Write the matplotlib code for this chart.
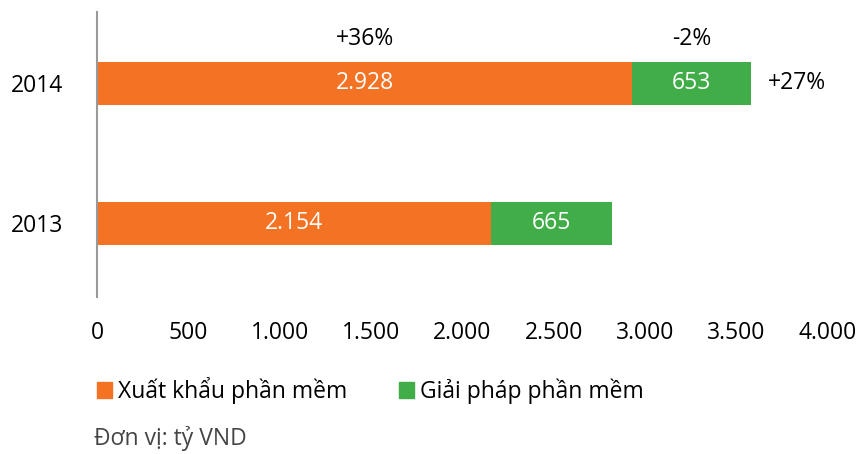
import matplotlib.pyplot as plt
from matplotlib.patches import Patch
from matplotlib.ticker import FuncFormatter

plt.rcParams['font.family'] = ['Open Sans', 'DejaVu Sans']

years = ['2013', '2014']
xuat_khau = [2154, 2928]
giai_phap = [665, 653]
growth_xk = '+36%'
growth_gp = '-2%'
growth_total = '+27%'

ORANGE = '#F37224'
GREEN = '#41AD49'
FS = 16.5


def vn_number(v, pos=None):
    return f'{int(v):,}'.replace(',', '.')


fig = plt.figure(figsize=(8.58, 4.54), dpi=100)
ax = fig.add_axes([0.113, 0.346, 0.852, 0.628])

y = list(range(len(years)))
h = 0.307
ax.barh(y, xuat_khau, height=h, color=ORANGE, label='Xuất khẩu phần mềm')
ax.barh(y, giai_phap, left=xuat_khau, height=h, color=GREEN, label='Giải pháp phần mềm')

for i in y:
    ax.text(xuat_khau[i] / 2, i, vn_number(xuat_khau[i]), ha='center', va='center',
            color='white', fontsize=FS)
    ax.text(xuat_khau[i] + giai_phap[i] / 2, i, vn_number(giai_phap[i]), ha='center',
            va='center', color='white', fontsize=FS)

# growth notes for the latest year
top = len(years) - 1
ax.text(xuat_khau[top] / 2, top + 0.32, growth_xk, ha='center', va='center', fontsize=FS)
ax.text(xuat_khau[top] + giai_phap[top] / 2, top + 0.32, growth_gp, ha='center',
        va='center', fontsize=FS)
ax.text(xuat_khau[top] + giai_phap[top] + 90, top, growth_total, ha='left',
        va='center', fontsize=FS)

ax.set_xlim(0, 4000)
ax.set_ylim(-0.525, 1.511)
ax.set_xticks(range(0, 4001, 500))
ax.xaxis.set_major_formatter(FuncFormatter(vn_number))
ax.set_yticks(y)
ax.set_yticklabels(years)
ax.tick_params(axis='both', length=0, labelsize=FS)
ax.tick_params(axis='x', pad=17)
ax.tick_params(axis='y', pad=24)
for s in ['top', 'right', 'bottom']:
    ax.spines[s].set_visible(False)
ax.spines['left'].set_color('#999999')
ax.spines['left'].set_linewidth(1.5)

handles = [Patch(color=ORANGE, label='Xuất khẩu phần mềm'),
           Patch(color=GREEN, label='Giải pháp phần mềm')]
fig.legend(handles=handles, loc='upper left', bbox_to_anchor=(0.102, 0.19), ncol=2,
           frameon=False, fontsize=FS, handlelength=0.65, handleheight=0.65,
           handletextpad=0.28, columnspacing=2.25, borderaxespad=0)

fig.text(0.109, 0.02, 'Đơn vị: tỷ VND', fontsize=FS, color='#444444', ha='left',
         va='baseline')

fig.savefig('out.png', dpi=100)
